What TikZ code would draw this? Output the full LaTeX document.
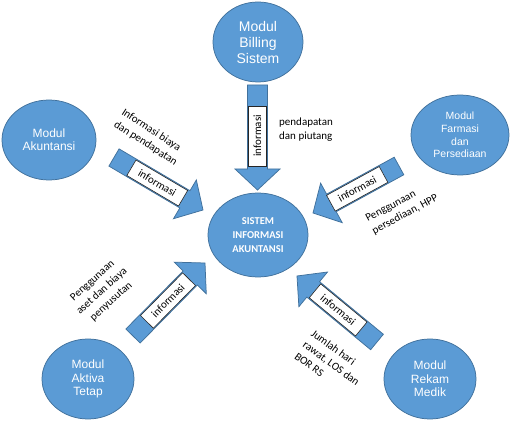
\documentclass[tikz,border=0pt]{standalone}
\usepackage{fontspec}
\setmainfont{Carlito}
\newfontfamily\arialfont{Liberation Sans}
\usetikzlibrary{shapes.geometric,calc}
\definecolor{modblue}{HTML}{5B9BD5}
\definecolor{modedge}{HTML}{41719C}
\tikzset{
    modnode/.style={
        ellipse,
        inner sep=0,
        draw=modedge,
        line width=0.75pt,
        fill=modblue,
        text=white,
        align=center,
        font=\arialfont\fontsize{12}{13.3}\selectfont,
    },
    infobox/.style={
        draw=black!85,
        fill=white,
        line width=0.6pt,
        inner sep=0,
        minimum width=60pt,
        minimum height=18pt,
        font=\fontsize{11}{13}\selectfont,
    },
    blockarrow/.style={
        fill=modblue,
        draw=modedge,
        line width=0.75pt,
    },
    note/.style={
        inner sep=0,
        align=left,
        font=\fontsize{11}{14}\selectfont,
    },
}
\newcommand{\infoarrow}[2]{%
    \coordinate (#1-base) at ($(#2)!21pt!(#1)$);
    \draw[blockarrow] ($(#1)!10pt!90:(#2)$) -- ($(#1-base)!10pt!90:(#2)$)
        -- ($(#1-base)!22.5pt!90:(#2)$) -- (#2)
        -- ($(#1-base)!22.5pt!-90:(#2)$) -- ($(#1-base)!10pt!-90:(#2)$)
        -- ($(#1)!10pt!-90:(#2)$) -- cycle;
    \path (#2) -- (#1) node[infobox, sloped, pos=0.514] {informasi};
}

\begin{document}
\begin{tikzpicture}[x=1pt, y=-1pt]
            \useasboundingbox (0, 0) rectangle (512, 422);

            \node[modnode, minimum width=90pt, minimum height=80pt,
                  font=\arialfont\fontsize{14}{16}\selectfont]
                  at (258, 42)   (billing)   {Modul\\Billing\\Sistem};
            \node[modnode, minimum width=94pt, minimum height=80pt]
                  at (49, 140)   (akuntansi) {Modul\\Akuntansi};
            \node[modnode, minimum width=98pt, minimum height=80pt,
                  font=\arialfont\fontsize{10.5}{12.7}\selectfont]
                  at (460, 135)  (farmasi)   {Modul\\Farmasi\\dan\\Persediaan};
            \node[modnode, minimum width=100pt, minimum height=84pt,
                  font=\bfseries\fontsize{10.5}{14}\selectfont]
                  at (258, 235)  (sia)       {SISTEM\\INFORMASI\\AKUNTANSI};
            \node[modnode, minimum width=92pt, minimum height=80pt]
                  at (88, 379)   (aktiva)    {Modul\\Aktiva\\Tetap};
            \node[modnode, minimum width=92pt, minimum height=80pt]
                  at (430, 379)  (rekam)     {Modul\\Rekam\\Medik};

            % arrow ends
            \coordinate (billingtail)   at (257.5, 85);
            \coordinate (billingtip)    at (257.5, 190);
            \coordinate (akuntansitail) at (114, 157.5);
            \coordinate (akuntansitip)  at (203, 210);
            \coordinate (farmasitail)   at (399, 166);
            \coordinate (farmasitip)    at (313, 213);
            \coordinate (aktivatail)    at (133, 336);
            \coordinate (aktivatip)     at (205, 263);
            \coordinate (rekamtail)     at (377, 342);
            \coordinate (rekamtip)      at (297, 276);

            \infoarrow{billingtail}{billingtip}
            \infoarrow{akuntansitail}{akuntansitip}
            \infoarrow{farmasitail}{farmasitip}
            \infoarrow{aktivatail}{aktivatip}
            \infoarrow{rekamtail}{rekamtip}

            % labels
            \node[note, anchor=west] at (279, 130) (billingnote)
                  {pendapatan\\dan piutang};
            \node[note, rotate=-33] at (149.4, 137.6) (akuntansinote)
                  {Informasi biaya\\dan pendapatan};
            \node[note, rotate=28] at (402, 208.6) (farmasinote)
                  {Penggunaan\\persediaan, HPP};
            \node[note, align=center, rotate=42] at (102, 291.3) (aktivanote)
                  {Penggunaan\\aset dan biaya\\penyusutan};
            \node[note, rotate=-36] at (331.4, 363.3) (rekamnote)
                  {Jumlah hari\\rawat, LOS dan\\BOR RS};
        \end{tikzpicture}
\end{document}
